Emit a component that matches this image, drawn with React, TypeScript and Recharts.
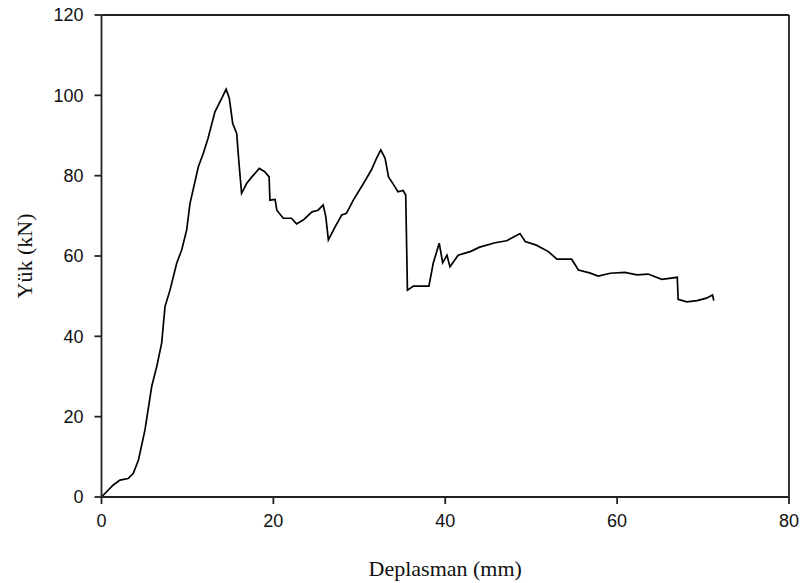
import { LineChart, Line, XAxis, YAxis, ReferenceLine } from 'recharts';

const displacement = [
  0, 1.37, 2.15, 3.1, 3.7, 4.3, 5.06, 5.84, 6.42, 7.0,
  7.39, 7.97, 8.75, 9.33, 9.91, 10.3, 11.27, 11.85, 12.4, 13.2,
  14.0, 14.5, 14.87, 15.27, 15.73, 16.0, 16.3, 16.9, 17.5, 18.36,
  19.0, 19.5, 19.6, 20.2, 20.4, 21.15, 22.1, 22.7, 23.5, 24.5,
  25.2, 25.8, 26.1, 26.4, 27.2, 27.95, 28.5, 29.3, 30.5, 31.4,
  32.0, 32.5, 33.0, 33.4, 34.0, 34.5, 35.1, 35.4, 35.6, 36.3,
  38.1, 38.6, 39.3, 39.7, 40.2, 40.55, 41.5, 42.3, 42.9, 44.0,
  45.8, 47.15, 48.7, 49.3, 50.6, 52.0, 53.0, 54.7, 55.5, 56.8,
  57.8, 59.2, 60.9, 62.3, 63.6, 65.2, 67.0, 67.1, 68.1, 69.3,
  70.4, 71.1, 71.25,
];

const load = [
  0, 3.0, 4.2, 4.6, 5.9, 9.2, 16.7, 27.5, 32.4, 38.3,
  47.4, 51.5, 58.2, 61.5, 66.5, 73.1, 82.2, 85.6, 89.3, 95.9,
  99.3, 101.5, 99.3, 93.0, 90.5, 83.1, 75.6, 78.1, 79.7, 81.8,
  81.0, 79.7, 73.9, 74.1, 71.4, 69.4, 69.4, 68.0, 69.0, 71.0,
  71.4, 72.7, 69.8, 64.0, 67.3, 70.2, 70.6, 73.9, 78.1, 81.4,
  84.3, 86.4, 84.3, 79.7, 77.7, 76.0, 76.3, 75.2, 51.5, 52.5,
  52.5, 58.2, 63.2, 58.3, 60.2, 57.3, 60.2, 60.7, 61.1, 62.2,
  63.3, 63.8, 65.6, 63.6, 62.7, 61.1, 59.2, 59.2, 56.5, 55.8,
  55.0, 55.7, 55.9, 55.3, 55.5, 54.2, 54.7, 49.2, 48.6, 48.9,
  49.5, 50.3, 48.9,
];

const xTicks = [0, 20, 40, 60, 80];
const yTicks = [0, 20, 40, 60, 80, 100, 120];

const data = displacement.map((x, i) => ({ x, y: load[i] }));

const axisColor = '#222';
const tickStyle = { fontFamily: 'Liberation Sans, Arial, sans-serif', fontSize: 18, fill: '#111' };
const titleStyle = { fontFamily: 'Liberation Serif, Times New Roman, serif', fontSize: 22, fill: '#111' };

export default function App() {
  return (
    <div style={{ position: 'absolute', left: 0, top: 0, background: '#fff' }}>
      <LineChart width={803} height={583} data={data} margin={{ top: 15, right: 14, bottom: 0, left: 0 }}>
        <XAxis
          dataKey="x"
          type="number"
          domain={[0, 80]}
          ticks={xTicks}
          height={86}
          stroke={axisColor}
          strokeWidth={1.8}
          tickSize={7}
          tickMargin={10}
          tick={tickStyle}
          label={{ value: 'Deplasman (mm)', position: 'center', dy: 28, style: titleStyle }}
        />
        <YAxis
          dataKey="y"
          type="number"
          domain={[0, 120]}
          ticks={yTicks}
          width={101.5}
          stroke={axisColor}
          strokeWidth={1.8}
          tickSize={7}
          tickMargin={11}
          tick={tickStyle}
          label={{ value: 'Yük (kN)', angle: -90, position: 'center', dx: -27, style: titleStyle }}
        />
        <ReferenceLine y={120} stroke={axisColor} strokeWidth={1.8} />
        <ReferenceLine x={80} stroke={axisColor} strokeWidth={1.8} />
        <Line
          dataKey="y"
          type="linear"
          stroke="#000"
          strokeWidth={1.7}
          dot={false}
          isAnimationActive={false}
        />
      </LineChart>
    </div>
  );
}
